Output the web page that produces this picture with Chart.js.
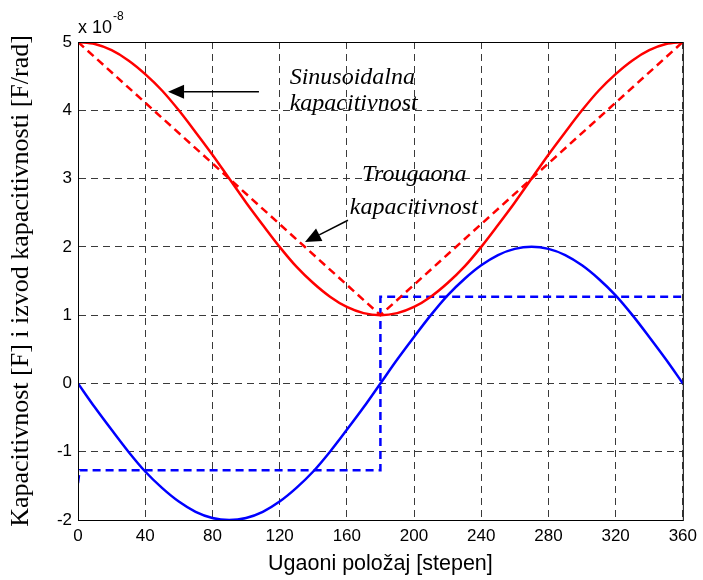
<!DOCTYPE html>
<html>
<head>
<meta charset="utf-8">
<script src="https://cdn.jsdelivr.net/npm/chart.js@4.4.1/dist/chart.umd.min.js"></script>
<style>
  html, body { margin: 0; padding: 0; background: #fff; }
  #wrap { width: 703px; height: 580px; }
</style>
</head>
<body>
<div id="wrap"><canvas id="capChart" width="703" height="580"></canvas></div>
<script>
// angle samples (degrees)
const angles = [0, 10, 20, 30, 40, 50, 60, 70, 80, 90, 100, 110, 120, 130, 140, 150, 160, 170, 180,
    190, 200, 210, 220, 230, 240, 250, 260, 270, 280, 290, 300, 310, 320, 330, 340, 350, 360];

// sinusoidal capacitance (x 1e-8 F)
const sinCap = [5.0, 4.97, 4.88, 4.73, 4.53, 4.29, 4.0, 3.68, 3.35, 3.0, 2.65, 2.32, 2.0, 1.71, 1.47, 1.27, 1.12, 1.03, 1.0,
    1.03, 1.12, 1.27, 1.47, 1.71, 2.0, 2.32, 2.65, 3.0, 3.35, 3.68, 4.0, 4.29, 4.53, 4.73, 4.88, 4.97, 5.0];

// derivative of sinusoidal capacitance (F/rad)
const sinDer = [0, -0.35, -0.68, -1.0, -1.29, -1.53, -1.73, -1.88, -1.97, -2.0, -1.97, -1.88, -1.73, -1.53, -1.29, -1.0, -0.68, -0.35, 0,
    0.35, 0.68, 1.0, 1.29, 1.53, 1.73, 1.88, 1.97, 2.0, 1.97, 1.88, 1.73, 1.53, 1.29, 1.0, 0.68, 0.35, 0];

// triangular capacitance (corner points)
const triAngles = [0, 180, 360];
const triCap = [5.0, 1.0, 5.0];

// derivative of triangular capacitance (step)
const triDerAngles = [0, 1, 180, 180, 360];
const triDer = [-1.46, -1.27, -1.27, 1.27, 1.27];

const xTicks = [0, 40, 80, 120, 160, 200, 240, 280, 320, 360];
const yTicks = [-2, -1, 0, 1, 2, 3, 4, 5];

const toXY = (xs, ys) => xs.map((x, i) => ({ x: x, y: ys[i] }));

// annotation text + arrows, anchored in data units
const notes = [
    { lines: ['Sinusoidalna', 'kapacitivnost'], x: [126, 126], y: [4.48, 4.10], tail: [107.7, 4.27], head: [53.6, 4.27] },
    { lines: ['Trougaona', 'kapacitivnost'], x: [169, 161.8], y: [3.05, 2.58], tail: [160.7, 2.39], head: [135.1, 2.07] }
];

const matlabLook = {
    id: 'matlabLook',
    afterDraw(chart) {
        const { ctx, chartArea: a, scales: { x, y } } = chart;
        ctx.save();
        // box around axes
        ctx.strokeStyle = '#000';
        ctx.lineWidth = 1;
        ctx.strokeRect(a.left + 0.5, a.top + 0.5, a.right - a.left, a.bottom - a.top);

        // exponent label
        ctx.fillStyle = '#000';
        ctx.textBaseline = 'alphabetic';
        ctx.textAlign = 'left';
        ctx.font = '18px "Liberation Sans", Arial, sans-serif';
        ctx.fillText('x 10', a.left, a.top - 9);
        const w = ctx.measureText('x 10').width;
        ctx.font = '12px "Liberation Sans", Arial, sans-serif';
        ctx.fillText('-8', a.left + w + 1, a.top - 22);

        // annotations
        ctx.font = 'italic 24px "Liberation Serif", "Times New Roman", serif';
        ctx.textBaseline = 'middle';
        notes.forEach(n => {
            n.lines.forEach((t, i) => {
                ctx.fillText(t, x.getPixelForValue(n.x[i]), y.getPixelForValue(n.y[i]));
            });
            const tx = x.getPixelForValue(n.tail[0]), ty = y.getPixelForValue(n.tail[1]);
            const hx = x.getPixelForValue(n.head[0]), hy = y.getPixelForValue(n.head[1]);
            const ang = Math.atan2(hy - ty, hx - tx);
            const len = 16, half = 7;
            const bx = hx - len * Math.cos(ang), by = hy - len * Math.sin(ang);
            ctx.strokeStyle = '#000';
            ctx.lineWidth = 1.5;
            ctx.beginPath();
            ctx.moveTo(tx, ty);
            ctx.lineTo(bx, by);
            ctx.stroke();
            ctx.beginPath();
            ctx.moveTo(hx, hy);
            ctx.lineTo(bx + half * Math.sin(ang), by - half * Math.cos(ang));
            ctx.lineTo(bx - half * Math.sin(ang), by + half * Math.cos(ang));
            ctx.closePath();
            ctx.fill();
        });
        ctx.restore();
    }
};

new Chart(document.getElementById('capChart'), {
    type: 'line',
    data: {
        datasets: [
            { label: 'Sinusoidalna', data: toXY(angles, sinCap), borderColor: '#ff0000', borderWidth: 2.5,
              cubicInterpolationMode: 'monotone' },
            { label: 'Trougaona', data: toXY(triAngles, triCap), borderColor: '#ff0000', borderWidth: 2.5,
              borderDash: [8, 5] },
            { label: 'Izvod sin', data: toXY(angles, sinDer), borderColor: '#0000ff', borderWidth: 2.5,
              cubicInterpolationMode: 'monotone' },
            { label: 'Izvod troug', data: toXY(triDerAngles, triDer), borderColor: '#0000ff', borderWidth: 2.5,
              borderDash: [8, 5] }
        ]
    },
    options: {
        responsive: false,
        animation: false,
        events: [],
        elements: { point: { radius: 0 } },
        layout: { padding: { top: 42, right: 20, left: 0, bottom: 0 } },
        plugins: { legend: { display: false }, tooltip: { enabled: false } },
        scales: {
            x: {
                type: 'linear',
                min: 0, max: 360,
                afterBuildTicks: s => { s.ticks = xTicks.map(v => ({ value: v })); },
                afterFit: s => { s.height = 60; },
                grid: { color: '#3a3a3a', lineWidth: 1, drawTicks: false },
                border: { display: true, color: '#000', dash: [7, 5] },
                ticks: { color: '#000', padding: 6, maxRotation: 0,
                         font: { family: '"Liberation Sans", Arial, sans-serif', size: 17 } },
                title: { display: true, text: 'Ugaoni položaj [stepen]', color: '#000',
                         padding: { top: 0, bottom: 3 },
                         font: { family: '"Liberation Sans", Arial, sans-serif', size: 21.5 } }
            },
            y: {
                min: -2, max: 5,
                afterBuildTicks: s => { s.ticks = yTicks.map(v => ({ value: v })); },
                afterFit: s => { s.width = 78; },
                grid: { color: '#3a3a3a', lineWidth: 1, drawTicks: false },
                border: { display: true, color: '#000', dash: [7, 5] },
                ticks: { color: '#000', padding: 6,
                         font: { family: '"Liberation Sans", Arial, sans-serif', size: 17 } },
                title: { display: true, text: 'Kapacitivnost [F] i izvod kapacitivnosti [F/rad]', color: '#000',
                         padding: { top: 6, bottom: 0 },
                         font: { family: '"Liberation Serif", "Times New Roman", serif', size: 26 } }
            }
        }
    },
    plugins: [matlabLook]
});
</script>
</body>
</html>
